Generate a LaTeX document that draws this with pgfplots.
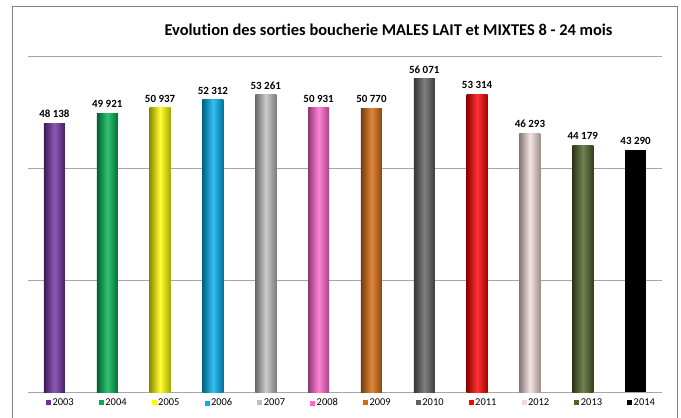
\documentclass[border=0pt]{standalone}
\usepackage{pgfplots}
\pgfplotsset{compat=1.18}
\usepackage{fontspec}
\setmainfont[Ligatures=NoCommon]{Carlito}
\definecolor{c03}{HTML}{7030A0}
\definecolor{c04}{HTML}{00B050}
\definecolor{c05}{HTML}{FFFF00}
\definecolor{c06}{HTML}{00B0F0}
\definecolor{c07}{HTML}{BFBFBF}
\definecolor{c08}{HTML}{FF66CC}
\definecolor{c09}{HTML}{D96B0C}
\definecolor{c10}{HTML}{606060}
\definecolor{c11}{HTML}{FF0000}
\definecolor{c12}{HTML}{F2DCDB}
\definecolor{c13}{HTML}{4F6228}
\definecolor{c14}{HTML}{000000}
\definecolor{gridc}{HTML}{A6A6A6}
\pgfplotsset{cyl/.style={draw=none, left color=#1!55!black, right color=#1!65!black, middle color=#1!80!white}}
\newcommand{\sq}[1]{\textcolor{#1}{\rule{5bp}{5bp}}\hspace{1.5bp}}
\begin{document}
\begin{tikzpicture}[x=1bp,y=1bp]
\useasboundingbox (0,0) rectangle (681,417);
\draw[color=gray, line width=1bp] (12,-2) -- (12,410) -- (677,410) -- (677,-2);
\node[font=\bfseries\fontsize{16.5}{18}\selectfont] at (388.5,387) {Evolution des sorties boucherie MALES LAIT et MIXTES 8 - 24 mois};
\begin{axis}[
  at={(28bp,25bp)}, anchor=south west, scale only axis,
  width=634bp, height=335bp,
  xmin=-0.5, xmax=11.5, ymin=0, ymax=60000,
  ytick={0,20000,40000,60000}, yticklabels={}, scaled y ticks=false,
  ymajorgrids, grid style={draw=gridc, line width=1bp},
  axis line style={draw=none},
  major tick length=0pt,
  xtick={0,...,11},
  xticklabels={{\sq{c03}2003},{\sq{c04}2004},{\sq{c05}2005},{\sq{c06}2006},{\sq{c07}2007},{\sq{c08}2008},{\sq{c09}2009},{\sq{c10}2010},{\sq{c11}2011},{\sq{c12}2012},{\sq{c13}2013},{\sq{c14}2014}},
  xticklabel style={font=\fontsize{10.5}{12}\selectfont, xshift=5.5bp, yshift=-3bp},
  every axis plot/.append style={ybar, bar width=21bp, bar shift=0pt},
  nodes near coords,
  every node near coord/.append style={font=\bfseries\fontsize{11}{13}\selectfont, yshift=2bp},
  /pgf/number format/.cd, 1000 sep={\ }, assume math mode=true,
]
\addplot[cyl=c03] coordinates {(0,48138)};
\addplot[cyl=c04] coordinates {(1,49921)};
\addplot[cyl=c05] coordinates {(2,50937)};
\addplot[cyl=c06] coordinates {(3,52312)};
\addplot[cyl=c07] coordinates {(4,53261)};
\addplot[cyl=c08] coordinates {(5,50931)};
\addplot[cyl=c09] coordinates {(6,50770)};
\addplot[cyl=c10] coordinates {(7,56071)};
\addplot[cyl=c11] coordinates {(8,53314)};
\addplot[cyl=c12] coordinates {(9,46293)};
\addplot[cyl=c13] coordinates {(10,44179)};
\addplot[draw=none, fill=black] coordinates {(11,43290)};
\end{axis}
\end{tikzpicture}
\end{document}
